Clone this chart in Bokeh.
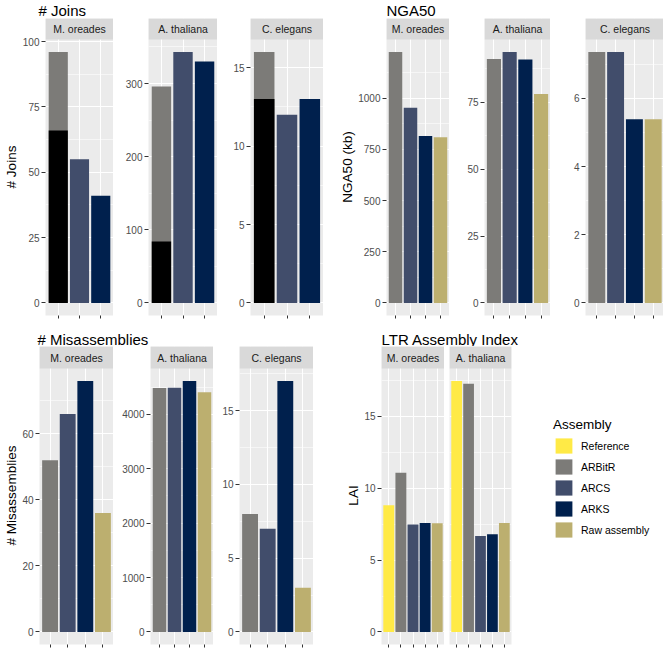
from bokeh.plotting import figure
from bokeh.models import (Range1d, FixedTicker, BoxAnnotation, Label, Legend,
                          LegendItem, ColumnDataSource, CustomJSTickFormatter,
                          Title)
from bokeh.layouts import row, column
from bokeh.embed import file_html
from bokeh.resources import INLINE

# ---------------- data ----------------
species3 = ["M. oreades", "A. thaliana", "C. elegans"]
species2 = ["M. oreades", "A. thaliana"]
assemblies = ["Reference", "ARBitR", "ARCS", "ARKS", "Raw assembly"]
assembly_colors = ["#FFEA46", "#7C7B78", "#414D6B", "#00204D", "#BCAF6F"]

joins_assemblies = ["ARBitR", "ARCS", "ARKS"]
joins_arbitr = [96, 296, 16]
joins_arbitr_black = [66, 84, 13]
joins_arcs = [55, 343, 12]
joins_arks = [41, 330, 13]

nga_assemblies = ["ARBitR", "ARCS", "ARKS", "Raw assembly"]
nga50_arbitr = [1225, 91.2, 7.36]
nga50_arcs = [953, 93.8, 7.36]
nga50_arks = [815, 91.0, 5.39]
nga50_raw = [809, 78.1, 5.39]

mis_arbitr = [52, 4482, 8]
mis_arcs = [66, 4486, 7]
mis_arks = [76, 4610, 17]
mis_raw = [36, 4403, 3]

lai_assemblies = ["Reference", "ARBitR", "ARCS", "ARKS", "Raw assembly"]
lai_reference = [8.81, 17.46]
lai_arbitr = [11.07, 17.27]
lai_arcs = [7.47, 6.68]
lai_arks = [7.59, 6.80]
lai_raw = [7.57, 7.59]

joins_ticks = [[0, 25, 50, 75, 100], [0, 100, 200, 300], [0, 5, 10, 15]]
nga50_ticks = [[0, 250, 500, 750, 1000], [0, 25, 50, 75], [0, 2, 4, 6]]
mis_ticks = [[0, 20, 40, 60], [0, 1000, 2000, 3000, 4000], [0, 5, 10, 15]]
lai_ticks = [0, 5, 10, 15]

# ---------------- style ----------------
FONT = "Liberation Sans"
PANEL_H = 276
COLOR = dict(zip(assemblies, assembly_colors))


def panel(strip, names, vals, ticks, frame_w, left, bottom, strip_h,
          ymax=None, ylabel=None, ylabel_offset=0, show_y=True, right=0,
          black=None):
    n = len(vals)
    if ymax is None:
        ymax = max(vals)
    lo, hi = -0.05 * ymax, 1.05 * ymax
    top = hi + (hi - lo) * strip_h / PANEL_H
    step = ticks[1] - ticks[0]
    minor = [t + step / 2 for t in ticks if lo < t + step / 2 < hi]
    xs = list(range(1, n + 1))
    p = figure(frame_width=frame_w, frame_height=strip_h + PANEL_H,
               x_range=Range1d(0.4, n + 0.6), y_range=Range1d(lo, top),
               min_border_left=left, min_border_right=right,
               min_border_top=0, min_border_bottom=bottom,
               output_backend="svg", toolbar_location=None,
               y_axis_location="left" if show_y else None)
    p.background_fill_color = "#EBEBEB"
    p.border_fill_color = "white"
    p.outline_line_color = None

    xt = FixedTicker(ticks=xs)
    yt = FixedTicker(ticks=ticks, minor_ticks=minor)
    p.xaxis.ticker = xt
    p.xaxis.formatter = CustomJSTickFormatter(code="return ''")
    p.xaxis.major_label_text_font_size = "1px"
    p.xaxis.major_label_standoff = 0
    p.xaxis.major_tick_out = 3
    p.xaxis.major_tick_in = 0
    p.xaxis.minor_tick_out = 0
    p.xaxis.axis_line_color = None
    p.xaxis.major_tick_line_color = "#333333"
    for g in p.xgrid:
        g.ticker = xt
    for g in p.ygrid:
        g.ticker = yt
    p.xgrid.grid_line_color = "white"
    p.xgrid.grid_line_width = 1.1
    p.ygrid.grid_line_color = "white"
    p.ygrid.grid_line_width = 1.1
    p.ygrid.minor_grid_line_color = "white"
    p.ygrid.minor_grid_line_width = 0.55
    if show_y:
        p.yaxis.ticker = yt
        p.yaxis.axis_line_color = None
        p.yaxis.major_tick_out = 4
        p.yaxis.major_tick_in = 0
        p.yaxis.minor_tick_out = 0
        p.yaxis.minor_tick_in = 0
        p.yaxis.major_tick_line_color = "#333333"
        p.yaxis.major_label_text_font = FONT
        p.yaxis.major_label_text_font_size = "10px"
        p.yaxis.major_label_text_color = "#4D4D4D"
        p.yaxis.major_label_standoff = 2
        if ylabel:
            p.add_layout(Title(text=ylabel, align="center",
                               offset=ylabel_offset, standoff=2,
                               text_font=FONT, text_font_size="13.5px",
                               text_font_style="normal", text_color="black"),
                         "left")

    renderers = {}
    for i, (name, v) in enumerate(zip(names, vals)):
        src = ColumnDataSource(dict(x=[xs[i]], top=[v]))
        renderers[name] = p.vbar(x="x", top="top", bottom=0, width=0.9,
                                 fill_color=COLOR[name], line_color=None,
                                 source=src)
    if black is not None:
        p.vbar(x=[xs[0]], top=[black], bottom=0, width=0.9, fill_color="black",
               line_color=None)

    p.add_layout(BoxAnnotation(bottom=hi, fill_color="#D9D9D9", fill_alpha=1,
                               line_alpha=0, level="annotation"))
    p.add_layout(Label(x=(n + 1) / 2, y=(hi + top) / 2, text=strip,
                       text_align="center", text_baseline="middle",
                       text_font=FONT, text_font_size="10.5px",
                       text_color="#1A1A1A"))
    return p, renderers


def title_fig(text, w, h, x, y):
    p = figure(frame_width=w, frame_height=h, x_range=Range1d(0, w),
               y_range=Range1d(0, h), min_border=0, toolbar_location=None,
               output_backend="svg", x_axis_location=None,
               y_axis_location=None, title=None)
    p.outline_line_color = None
    p.grid.visible = False
    p.add_layout(Label(x=x, y=y, text=text, text_font=FONT,
                       text_font_size="15px", text_color="black",
                       text_baseline="alphabetic"))
    return p


# ---------------- top row ----------------
TB = 6
TS = 21
J = [panel(species3[i], joins_assemblies,
           [joins_arbitr[i], joins_arcs[i], joins_arks[i]], joins_ticks[i],
           fw, lb, TB, TS, ylabel="# Joins" if i == 0 else None,
           ylabel_offset=-10, black=joins_arbitr_black[i])[0]
     for i, (fw, lb) in enumerate([(68, 38), (69, 35), (73, 33)])]
N = [panel(species3[i], nga_assemblies,
           [nga50_arbitr[i], nga50_arcs[i], nga50_arks[i], nga50_raw[i]],
           nga50_ticks[i], fw, lb, TB, TS,
           ylabel="NGA50 (kb)" if i == 0 else None, right=rb)[0]
     for i, (fw, lb, rb) in enumerate([(63, 63, 0), (66, 35, 0), (79, 35, 2)])]

tJ = title_fig("# Joins", 316, 18, 38, 8)
tN = title_fig("NGA50", 343, 18, 63, 8)
top_row = row(column(tJ, row(*J)), column(tN, row(*N)))

# ---------------- bottom row ----------------
BB = 5
BS = 22
M = [panel(species3[i], nga_assemblies,
           [mis_arbitr[i], mis_arcs[i], mis_arks[i], mis_raw[i]],
           mis_ticks[i], fw, lb, BB, BS,
           ylabel="# Misassemblies" if i == 0 else None, ylabel_offset=-1)[0]
     for i, (fw, lb) in enumerate([(74, 37), (63, 37), (74, 26)])]

lai_max = max(lai_reference + lai_arbitr + lai_arcs + lai_arks + lai_raw)
lai_vals = [lai_reference, lai_arbitr, lai_arcs, lai_arks, lai_raw]
L1, _ = panel(species2[0], lai_assemblies, [s[0] for s in lai_vals],
              lai_ticks, 63, 68, BB, BS, ymax=lai_max, ylabel="LAI",
              ylabel_offset=-15)
L2, rends = panel(species2[1], lai_assemblies, [s[1] for s in lai_vals],
                  lai_ticks, 62, 5, BB, BS, ymax=lai_max, show_y=False,
                  right=150)

items = [LegendItem(label=name, renderers=[rends[name]]) for name in assemblies]
leg = Legend(items=items, location=(42, 105), title="Assembly",
             title_text_font=FONT, title_text_font_size="13.5px",
             title_text_font_style="normal", title_text_color="black",
             title_standoff=4,
             label_text_font=FONT, label_text_font_size="10.5px",
             label_text_color="black", label_standoff=7,
             glyph_width=21, glyph_height=19, label_height=19, spacing=2,
             padding=0, margin=0, border_line_color=None,
             background_fill_alpha=0)
L2.add_layout(leg, "right")

tM = title_fig("# Misassemblies", 311, 25, 37, 7.5)
tL = title_fig("LTR Assembly Index", 348, 25, 68, 7.5)
bottom_row = row(column(tM, row(*M)), column(tL, row(L1, L2)))

root = column(top_row, bottom_row)

open("out.html", "w").write(file_html(root, INLINE))
